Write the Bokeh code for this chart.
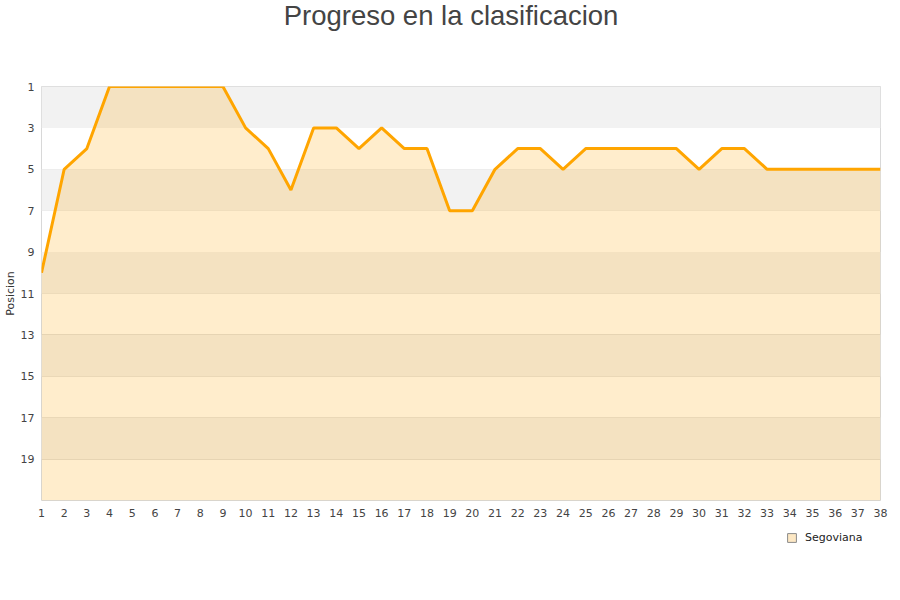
from bokeh.plotting import figure
from bokeh.layouts import column
from bokeh.models import (Range1d, FixedTicker, BoxAnnotation, Title, Legend, LegendItem,
                          ColumnDataSource, Label)
from bokeh.embed import file_html
from bokeh.resources import INLINE

# Data
jornadas = list(range(1, 39))
posicion = [10, 5, 4, 1, 1, 1, 1, 1, 1, 3, 4, 6, 3, 3, 4, 3, 4, 4, 7, 7,
            5, 4, 4, 5, 4, 4, 4, 4, 4, 5, 4, 4, 5, 5, 5, 5, 5, 5]
y_ticks = [1, 3, 5, 7, 9, 11, 13, 15, 17, 19]
y_min, y_max = 1, 21
equipo = "Segoviana"
titulo = "Progreso en la clasificacion"
eje_y = "Posicion"

W = 892
LEFT, RIGHT = 40, 12

# header strip with the title
HEAD_H = 40
h = figure(width=W, height=HEAD_H, output_backend="svg", toolbar_location=None,
           x_range=Range1d(LEFT, W - RIGHT), y_range=Range1d(HEAD_H, 0),
           min_border_left=LEFT, min_border_right=RIGHT, min_border_top=0, min_border_bottom=0)
h.axis.visible = False
h.grid.visible = False
h.outline_line_color = None
h.add_layout(Label(x=450, y=15, text=titulo, text_align="center", text_baseline="middle",
                   text_font="Liberation Sans", text_font_size="27.5px",
                   text_color="#444444"))

src = ColumnDataSource(dict(x=jornadas, y=posicion, base=[y_max] * len(jornadas)))

p = figure(width=W, height=484, output_backend="svg", toolbar_location=None,
           x_range=Range1d(jornadas[0], jornadas[-1]),
           y_range=Range1d(y_max, y_min),
           min_border_left=LEFT, min_border_right=RIGHT, min_border_top=86 - HEAD_H,
           min_border_bottom=24)

p.outline_line_color = "#d8d8d8"
p.background_fill_color = "white"

# alternating bands
for k in range(0, len(y_ticks) - 1, 2):
    p.add_layout(BoxAnnotation(top=y_ticks[k], bottom=y_ticks[k + 1],
                               fill_color="#f2f2f2", fill_alpha=1, line_alpha=0,
                               level="underlay"))

area = p.varea(x="x", y1="y", y2="base", source=src, fill_color="#ffa500", fill_alpha=0.2)
line = p.line(x="x", y="y", source=src, line_color="#ffa500", line_width=3)

p.xgrid.visible = False
p.ygrid.grid_line_color = "#e0e0e0"
p.ygrid.ticker = FixedTicker(ticks=y_ticks)

p.xaxis.ticker = FixedTicker(ticks=jornadas)
p.yaxis.ticker = FixedTicker(ticks=y_ticks)
for ax in (p.xaxis, p.yaxis):
    ax.axis_line_color = None
    ax.major_tick_line_color = None
    ax.minor_tick_line_color = None
    ax.major_tick_out = 0
    ax.major_tick_in = 0
    ax.major_label_text_font = "DejaVu Sans"
    ax.major_label_text_font_size = "11px"
    ax.major_label_text_color = "#444444"
p.xaxis.major_label_standoff = 8
p.yaxis.major_label_standoff = 7

p.add_layout(Title(text=eje_y, align="center", text_font="DejaVu Sans",
                   text_font_size="11px", text_font_style="normal",
                   text_color="#333333", standoff=2), "left")

# legend strip below the chart
q = figure(width=W, height=68, output_backend="svg", toolbar_location=None,
           x_range=Range1d(0, 1), y_range=Range1d(0, 1),
           min_border_left=LEFT, min_border_right=RIGHT, min_border_top=0, min_border_bottom=0)
q.axis.visible = False
q.grid.visible = False
q.outline_line_color = None
dummy = q.quad(left=[float("nan")], right=[float("nan")], top=[float("nan")],
               bottom=[float("nan")], fill_color="#fde8c4", line_color="#8a8a8a",
               line_width=1)
legend = Legend(items=[LegendItem(label=equipo, renderers=[dummy])],
                location=(745, 48), orientation="horizontal",
                border_line_alpha=0, background_fill_alpha=0,
                label_text_font="DejaVu Sans", label_text_font_size="11px",
                label_text_color="#222222", glyph_width=11, glyph_height=11,
                label_height=11, label_standoff=8, margin=0, padding=0)
q.add_layout(legend, "center")

layout = column(h, p, q, spacing=0)
open("out.html", "w").write(file_html(layout, INLINE))
